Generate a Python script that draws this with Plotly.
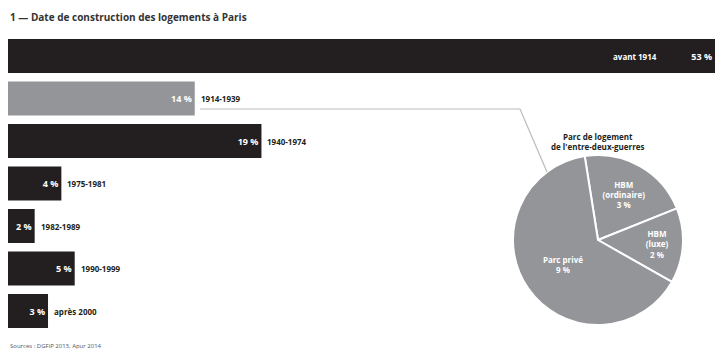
import plotly.graph_objects as go

# Data
periods = ["avant 1914", "1914-1939", "1940-1974", "1975-1981", "1982-1989", "1990-1999", "après 2000"]
shares = [53, 14, 19, 4, 2, 5, 3]
bar_colors = ["#231f20", "#939598", "#231f20", "#231f20", "#231f20", "#231f20", "#231f20"]

pie_labels = ["HBM<br>(ordinaire)", "HBM<br>(luxe)", "Parc privé"]
pie_values = [3, 2, 9]

title_text = "1 — Date de construction des logements à Paris"
pie_title = "Parc de logement<br>de l'entre-deux-guerres"
source_text = "Sources : DGFiP 2013, Apur 2014"

W, H = 720, 352
FONT = "Open Sans"

fig = go.Figure()

fig.add_trace(go.Bar(
    y=periods, x=shares, orientation="h",
    marker=dict(color=bar_colors, line=dict(width=0)),
    text=[f"{v} %" for v in shares],
    textposition="inside", insidetextanchor="end",
    textfont=dict(family=FONT, size=9, color="white", weight="bold"),
    cliponaxis=False, showlegend=False, hoverinfo="skip",
))

fig.add_trace(go.Pie(
    labels=pie_labels, values=pie_values,
    text=[f"{l}<br>{v} %" for l, v in zip(pie_labels, pie_values)],
    textinfo="text", textposition="inside", insidetextorientation="horizontal",
    textfont=dict(family=FONT, size=8, color="white", weight="bold"),
    marker=dict(colors=["#939598"] * 3, line=dict(color="white", width=2)),
    sort=False, direction="clockwise", rotation=-9,
    domain=dict(x=[513 / W, 683 / W], y=[1 - 325 / H, 1 - 155 / H]),
    showlegend=False, hoverinfo="skip",
))

annotations = []
for i, (p, v) in enumerate(zip(periods, shares)):
    if i == 0:
        annotations.append(dict(x=v, y=p, xref="x", yref="y", text=p, showarrow=False,
                                xanchor="right", xshift=-56,
                                font=dict(family=FONT, size=8, color="white", weight="bold")))
    else:
        annotations.append(dict(x=v, y=p, xref="x", yref="y", text=p, showarrow=False,
                                xanchor="left", xshift=4,
                                font=dict(family=FONT, size=8, color="#231f20", weight="bold")))

annotations.append(dict(x=8 / W, y=1 - 17 / H, xref="paper", yref="paper", text=title_text,
                        showarrow=False, xanchor="left", yanchor="middle",
                        font=dict(family=FONT, size=10, color="#333333", weight="bold")))
annotations.append(dict(x=598 / W, y=1 - 142 / H, xref="paper", yref="paper", text=pie_title,
                        showarrow=False, xanchor="center", yanchor="middle",
                        font=dict(family=FONT, size=8, color="#231f20", weight="bold")))
annotations.append(dict(x=8 / W, y=1 - 346 / H, xref="paper", yref="paper", text=source_text,
                        showarrow=False, xanchor="left", yanchor="middle",
                        font=dict(family=FONT, size=6, color="#555555")))

fig.update_layout(
    width=W, height=H,
    margin=dict(l=0, r=0, t=0, b=0),
    paper_bgcolor="white", plot_bgcolor="white",
    bargap=0.2,
    xaxis=dict(domain=[8 / W, 715 / W], range=[0, 53], visible=False, fixedrange=True),
    yaxis=dict(domain=[1 - 332.25 / H, 1 - 34.75 / H], autorange="reversed", visible=False,
               categoryorder="array", categoryarray=periods, fixedrange=True),
    annotations=annotations,
    shapes=[dict(type="path", xref="paper", yref="paper",
                 path=f"M {200 / W} {1 - 109 / H} L {520 / W} {1 - 109 / H} L {547 / W} {1 - 172 / H}",
                 line=dict(color="#bbbbbb", width=1.2))],
)

fig.write_html("out.html")
